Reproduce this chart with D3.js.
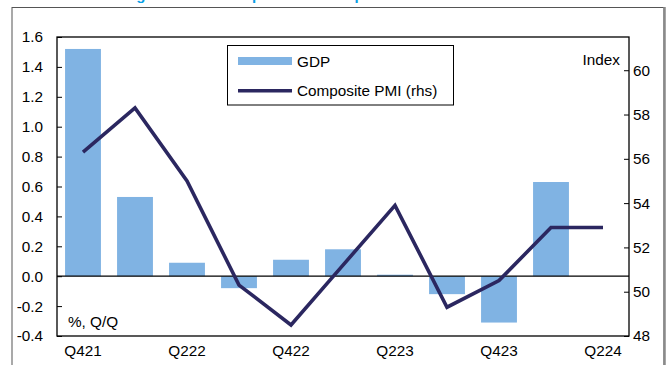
<!DOCTYPE html>
<html>
<head>
<meta charset="utf-8">
<script src="https://cdn.jsdelivr.net/npm/d3@7"></script>
<style>
html,body{margin:0;padding:0;background:#fff;}
svg{display:block;font-family:"Liberation Sans",Arial,sans-serif;}
</style>
</head>
<body>
<svg id="chart" width="668" height="365"></svg>
<script>
const categories = ["Q421","Q122","Q222","Q322","Q422","Q123","Q223","Q323","Q423","Q124","Q224"];
const gdp = [1.52, 0.53, 0.09, -0.08, 0.11, 0.18, 0.01, -0.12, -0.31, 0.63, null];
const pmi = [56.3, 58.3, 55.0, 50.3, 48.5, 51.2, 53.9, 49.3, 50.5, 52.9, 52.9];
const leftTicks = [-0.4, -0.2, 0.0, 0.2, 0.4, 0.6, 0.8, 1.0, 1.2, 1.4, 1.6];
const rightTicks = [48, 50, 52, 54, 56, 58, 60];
const xLabels = ["Q421","Q222","Q422","Q223","Q423","Q224"];

const svg = d3.select("#chart");
const L = 57, R = 629, T = 37, B = 336;
const FS = 15.3;

// title (cut off at top, as in the reference)
svg.append("text").attr("x", 64).attr("y", 0)
  .attr("fill", "#0aa0e6").attr("font-weight", "bold").attr("font-size", 15)
  .text("Real GDP growth and composite PMI output");

// outer frame
svg.append("rect").attr("x", 12).attr("y", 7.5).attr("width", 652).attr("height", 420)
  .attr("fill", "none").attr("stroke", "#555").attr("stroke-width", 1);
svg.append("line").attr("x1", 664.5).attr("x2", 664.5).attr("y1", 7).attr("y2", 365)
  .attr("stroke", "#8a8a8a").attr("stroke-width", 2.5);

const x = d3.scaleBand().domain(categories).range([L, R]).paddingInner(0.31).paddingOuter(0.155);
const yL = d3.scaleLinear().domain([-0.4, 1.6]).range([B, T]);
const yR = d3.scaleLinear().domain([48, 61.5]).range([B, T]);

// bars
svg.append("g").selectAll("rect")
  .data(categories.map((c, i) => ({c, v: gdp[i]})).filter(d => d.v !== null))
  .join("rect")
  .attr("x", d => x(d.c))
  .attr("width", x.bandwidth())
  .attr("y", d => yL(Math.max(0, d.v)))
  .attr("height", d => Math.abs(yL(d.v) - yL(0)))
  .attr("fill", "#80b3e3");

// zero line
svg.append("line").attr("x1", L).attr("x2", R).attr("y1", yL(0)).attr("y2", yL(0))
  .attr("stroke", "#000").attr("stroke-width", 1.3);

// PMI line
const line = d3.line().x((d, i) => x(categories[i]) + x.bandwidth() / 2).y(d => yR(d));
svg.append("path").datum(pmi).attr("d", line)
  .attr("fill", "none").attr("stroke", "#2b2760").attr("stroke-width", 3.6)
  .attr("stroke-linejoin", "miter");

// plot frame
svg.append("rect").attr("x", L).attr("y", T).attr("width", R - L).attr("height", B - T)
  .attr("fill", "none").attr("stroke", "#000").attr("stroke-width", 1.3);

// left axis
const leftAxis = d3.axisLeft(yL).tickValues(leftTicks).tickSize(-5).tickPadding(14)
  .tickFormat(d3.format(".1f"));
const gl = svg.append("g").attr("transform", `translate(${L},0)`).call(leftAxis);
gl.select(".domain").remove();
gl.selectAll(".tick line").attr("stroke", "#000");
gl.selectAll(".tick text").attr("font-size", FS).attr("fill", "#000")
  .attr("font-family", "Liberation Sans, Arial, sans-serif")
  .text(d => d3.format(".1f")(d).replace("−", "-"));

// right axis
const rightAxis = d3.axisRight(yR).tickValues(rightTicks).tickSize(-5).tickPadding(4);
const gr = svg.append("g").attr("transform", `translate(${R},0)`).call(rightAxis);
gr.select(".domain").remove();
gr.selectAll(".tick line").attr("stroke", "#000");
gr.selectAll(".tick text").attr("font-size", FS).attr("fill", "#000")
  .attr("font-family", "Liberation Sans, Arial, sans-serif");

// x labels
const xAxis = d3.axisBottom(x).tickValues(xLabels).tickSize(0).tickPadding(9);
const gx = svg.append("g").attr("transform", `translate(0,${B})`).call(xAxis);
gx.select(".domain").remove();
gx.selectAll(".tick text").attr("font-size", FS).attr("fill", "#000")
  .attr("font-family", "Liberation Sans, Arial, sans-serif");

// annotations
svg.append("text").attr("x", 68).attr("y", 327).attr("font-size", FS).text("%, Q/Q");
svg.append("text").attr("x", 620).attr("y", 65).attr("text-anchor", "end").attr("font-size", FS).text("Index");

// legend
const lg = svg.append("g");
lg.append("rect").attr("x", 227.5).attr("y", 45.5).attr("width", 226).attr("height", 59.5)
  .attr("fill", "#fff").attr("stroke", "#000").attr("stroke-width", 1);
lg.append("rect").attr("x", 238).attr("y", 57).attr("width", 54).attr("height", 8).attr("fill", "#80b3e3");
lg.append("text").attr("x", 297).attr("y", 66.5).attr("font-size", FS).text("GDP");
lg.append("line").attr("x1", 238).attr("x2", 292).attr("y1", 90.7).attr("y2", 90.7)
  .attr("stroke", "#2b2760").attr("stroke-width", 3.6);
lg.append("text").attr("x", 297).attr("y", 96).attr("font-size", FS).text("Composite PMI (rhs)");
</script>
</body>
</html>
